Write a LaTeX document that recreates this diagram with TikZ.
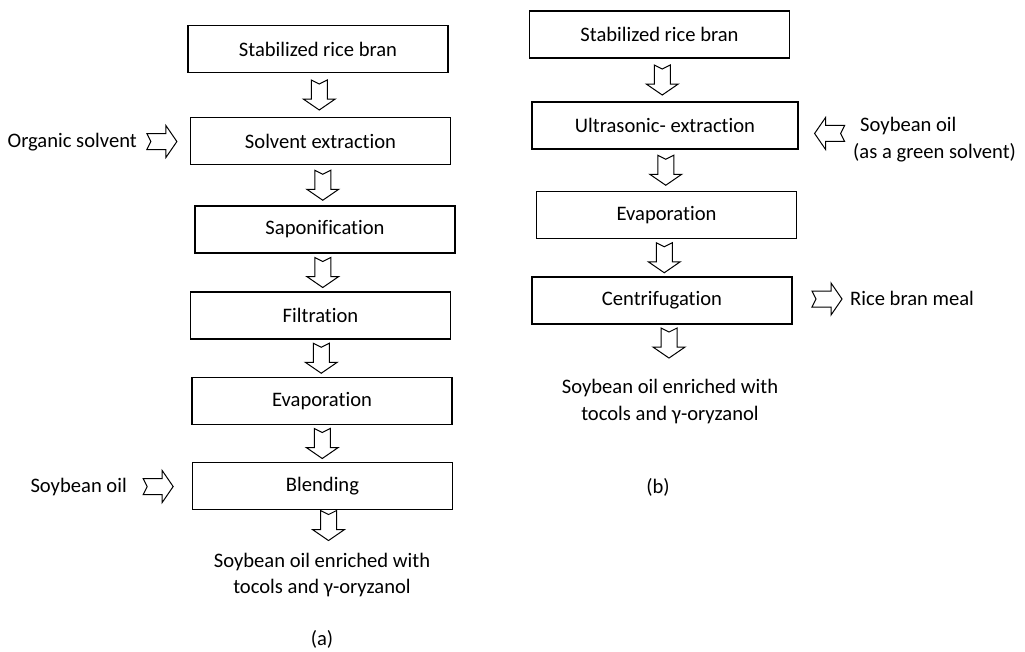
\documentclass[tikz,border=0pt]{standalone}
\usepackage{fontspec}
\setmainfont{Carlito}[Ligatures=NoCommon]
\usetikzlibrary{calc}
\begin{document}
\begin{tikzpicture}[x=1pt,y=-1pt,
  box/.style={draw, line width=1.1pt, minimum width=260pt, minimum height=47pt, inner sep=0pt, font=\fontsize{20.6}{25}\selectfont},
  lbl/.style={inner sep=0pt, font=\fontsize{20.6}{26.5}\selectfont, align=center},
  barrow/.pic={\draw[line width=1pt, fill=white, line join=miter] (-8,-15) -- (0,-11) -- (8,-15) -- (8,4) -- (16,4) -- (0,15) -- (-16,4) -- (-8,4) -- cycle;}
]
\useasboundingbox (0,0) rectangle (1025,651);
% (a)
\node[box] (a1) at (318,49) {Stabilized rice bran};
\node[box] (a2) at (320.5,141) {Solvent extraction};
\node[box] (a3) at (325,229.5) {Saponification};
\node[box] (a4) at (320.5,315.5) {Filtration};
\node[box] (a5) at (322,401) {Evaporation};
\node[box] (a6) at (322.5,486) {Blending};
\node[lbl, anchor=east] (os) at (137,142) {Organic solvent};
\node[lbl, anchor=east] (so) at (127,487) {Soybean oil};
\node[lbl] (outa) at (322,575) {Soybean oil enriched with\\tocols and γ-oryzanol};
\node[lbl] (capa) at (322,639.5) {(a)};
\pic at ($(a1.south)!0.5!(a2.north)$) {barrow};
\pic at ($(a2.south)!0.5!(a3.north)$) {barrow};
\pic at ($(a3.south)!0.5!(a4.north)$) {barrow};
\pic at ($(a4.south)!0.5!(a5.north)$) {barrow};
\pic at ($(a5.south)!0.5!(a6.north)$) {barrow};
\pic at ($(a6.south)+(6,15.5)$) {barrow};
\pic[rotate=90] at ($(os.east)!0.47!(a2.west)$) {barrow};
\pic[rotate=90] at ($(so.east)!0.48!(a6.west)$) {barrow};
% (b)
\node[box] (b1) at (659.5,34.5) {Stabilized rice bran};
\node[box, minimum width=266pt] (b2) at (665,125.5) {Ultrasonic- extraction};
\node[box] (b3) at (666.5,215) {Evaporation};
\node[box] (b4) at (662,300.5) {Centrifugation};
\node[lbl, anchor=west, align=left] (sg) at (853,139.5) {\hspace*{7pt}Soybean oil\\(as a green solvent)};
\node[lbl, anchor=west] (rbm) at (850,298) {Rice bran meal};
\node[lbl] (outb) at (670,401.5) {Soybean oil enriched with\\tocols and γ-oryzanol};
\node[lbl] (capb) at (658,487) {(b)};
\pic at ($(b1.south)!0.5!(b2.north)$) {barrow};
\pic at ($(b2.south)!0.5!(b3.north)$) {barrow};
\pic at ($(b3.south)!0.5!(b4.north)$) {barrow};
\pic at ($(b4.south)+(7,18.5)$) {barrow};
\pic[rotate=-90] at ($(b2.east)!0.57!(sg.west)$) {barrow};
\pic[rotate=90] at ($(b4.east)!0.6!(rbm.west)$) {barrow};
\end{tikzpicture}
\end{document}
